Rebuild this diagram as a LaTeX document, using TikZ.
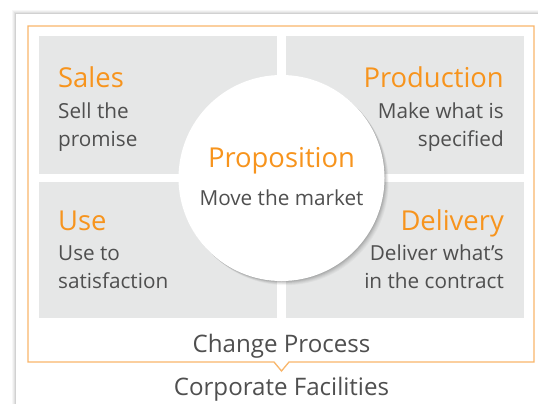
\documentclass[tikz,border=0pt]{standalone}
\usepackage{fontspec}
\setmainfont{Open Sans}
\definecolor{orng}{HTML}{F7941D}
\definecolor{frameorng}{HTML}{F9B66A}
\definecolor{boxgray}{HTML}{E6E7E7}
\definecolor{txtgray}{HTML}{4F4F4F}
\tikzset{
  titletext/.style={text=orng, inner sep=0pt, font=\fontsize{27.5}{27.5}\selectfont},
  bodytext/.style={text=txtgray, inner sep=0pt, font=\fontsize{20.8}{20.8}\selectfont},
  captext/.style={text=txtgray, inner sep=0pt, font=\fontsize{24.2}{24.2}\selectfont},
  quad/.style={fill=boxgray},
}
\begin{document}
\begin{tikzpicture}[x=1bp,y=-1bp]
\useasboundingbox (0,0) rectangle (538,403);
% card shadow
\foreach \d/\o in {4/0.03,3/0.04,2/0.05,1/0.07}{
  \fill[black, opacity=\o] (16-\d,14-\d) rectangle (560,420);
}
\fill[white] (16,14) rectangle (560,420);
% quadrants
\fill[quad] (39,36) rectangle (277,174);
\fill[quad] (286,36) rectangle (524,174);
\fill[quad] (39,182) rectangle (277,318);
\fill[quad] (286,182) rectangle (524,318);
% orange frame with notch
\draw[frameorng, line width=1.3pt] (28,26) -- (534,26) -- (534,362) -- (289,362) -- (281.5,371) -- (274,362) -- (28,362) -- cycle;
% circle shadow
\foreach \d/\o in {6/0.03,5/0.035,4/0.04,3/0.05,2/0.06,1/0.07}{
  \fill[black, opacity=\o] (281.5+0.7*\d,178+0.7*\d) circle (103);
}
\node[circle, fill=white, minimum size=206bp, inner sep=0pt] (prop) at (281.5,178) {};
% circle texts
\node[titletext, anchor=base] (propt) at (281.5,167) {Proposition};
\node[bodytext, anchor=base] (propb) at (281.5,205) {Move the market};
% quadrant texts
\node[titletext, anchor=base west] (sales) at (58,87) {Sales};
\node[bodytext, anchor=base west] (sales1) at (58,118) {Sell the};
\node[bodytext, anchor=base west] (sales2) at (58,146) {promise};
\node[titletext, anchor=base east] (prod) at (504,87) {Production};
\node[bodytext, anchor=base east] (prod1) at (504,118) {Make what is};
\node[bodytext, anchor=base east] (prod2) at (504,146) {specified};
\node[titletext, anchor=base west] (use) at (58,230) {Use};
\node[bodytext, anchor=base west] (use1) at (58,260) {Use to};
\node[bodytext, anchor=base west] (use2) at (58,288) {satisfaction};
\node[titletext, anchor=base east] (deliv) at (504,230) {Delivery};
\node[bodytext, anchor=base east] (deliv1) at (504,260) {Deliver what’s};
\node[bodytext, anchor=base east] (deliv2) at (504,288) {in the contract};
% captions
\node[captext, anchor=base] (change) at (281.5,352) {Change Process};
\node[captext, anchor=base] (corp) at (281.5,395) {Corporate Facilities};
\end{tikzpicture}
\end{document}
